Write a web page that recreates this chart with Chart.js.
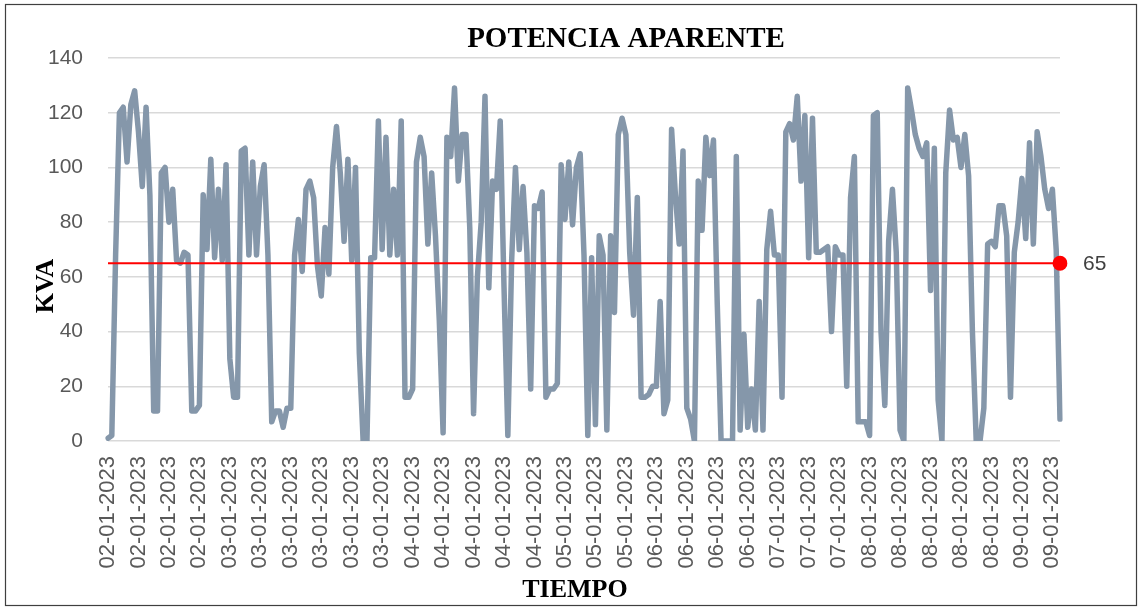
<!DOCTYPE html>
<html>
<head>
<meta charset="utf-8">
<script src="https://cdn.jsdelivr.net/npm/chart.js@4.4.1/dist/chart.umd.min.js"></script>
<style>
  html, body { margin: 0; padding: 0; background: #fff; }
  #grafico1 { display: block; }
</style>
</head>
<body>
<canvas id="grafico1" width="1139" height="607"></canvas>
<script>
// Etiquetas que se ven en el eje X (una cada 8 lecturas)
var etiquetasFecha = [
    '02-01-2023', '02-01-2023', '02-01-2023', '02-01-2023',
    '03-01-2023', '03-01-2023', '03-01-2023', '03-01-2023', '03-01-2023', '03-01-2023',
    '04-01-2023', '04-01-2023', '04-01-2023', '04-01-2023', '04-01-2023',
    '05-01-2023', '05-01-2023', '05-01-2023',
    '06-01-2023', '06-01-2023', '06-01-2023', '06-01-2023',
    '07-01-2023', '07-01-2023', '07-01-2023',
    '08-01-2023', '08-01-2023', '08-01-2023', '08-01-2023', '08-01-2023',
    '09-01-2023', '09-01-2023'
];
var lecturasPorEtiqueta = 8;

// Potencia aparente leida (kVA)
var potenciaKVA = [
    1, 2, 68, 120, 122, 102, 123, 128, 113, 93,
    122, 90, 11, 11, 98, 100, 80, 92, 66, 65,
    69, 68, 11, 11, 13, 90, 70, 103, 67, 92,
    66, 101, 30, 16, 16, 106, 107, 68, 102, 68,
    93, 101, 68, 7, 11, 11, 5, 12, 12, 68,
    81, 62, 92, 95, 89, 64, 53, 78, 61, 100,
    115, 98, 73, 103, 66, 100, 32, 0, 0, 67,
    67, 117, 70, 111, 68, 92, 68, 117, 16, 16,
    19, 102, 111, 104, 72, 98, 75, 44, 3, 111,
    104, 129, 95, 112, 112, 78, 10, 60, 80, 126,
    56, 95, 92, 117, 56, 2, 66, 100, 70, 93,
    69, 19, 86, 85, 91, 16, 19, 19, 21, 101,
    81, 102, 79, 100, 105, 68, 2, 67, 6, 75,
    68, 4, 75, 47, 112, 118, 112, 69, 46, 89,
    16, 16, 17, 20, 20, 51, 10, 15, 114, 90,
    72, 106, 12, 8, 0, 95, 77, 111, 97, 110,
    50, 0, 0, 0, 0, 104, 4, 39, 5, 19,
    4, 51, 4, 70, 84, 68, 68, 16, 113, 116,
    110, 126, 95, 119, 67, 118, 69, 69, 70, 71,
    40, 71, 68, 68, 20, 89, 104, 7, 7, 7,
    2, 119, 120, 40, 13, 73, 92, 69, 4, 0,
    129, 121, 112, 107, 104, 109, 55, 107, 15, 0,
    98, 121, 110, 111, 100, 112, 97, 40, 0, 0,
    12, 72, 73, 71, 86, 86, 75, 16, 69, 80,
    96, 74, 109, 72, 113, 104, 92, 85, 92, 70,
    8
];

var limiteKVA = 65;
var tituloGrafico = 'POTENCIA APARENTE';
var tituloEjeX = 'TIEMPO';
var tituloEjeY = 'KVA';

// una fecha por lectura, tomada del grupo de su etiqueta
var fechas = potenciaKVA.map(function (v, i) {
    return etiquetasFecha[Math.floor(i / lecturasPorEtiqueta)];
});
var lineaLimite = potenciaKVA.map(function () { return limiteKVA; });

// textos que no coloca Chart.js donde los queremos
var textosGrafico = {
    id: 'textosGrafico',
    afterDraw: function (chart) {
        var c = chart.ctx;
        c.save();
        // marco
        c.strokeStyle = '#3f3f3f';
        c.lineWidth = 1.2;
        c.strokeRect(5.5, 4.5, 1131, 601);

        c.fillStyle = '#000';
        c.textAlign = 'center';
        c.textBaseline = 'middle';
        c.font = 'bold 29px "Liberation Serif"';
        c.fillText(tituloGrafico, 626, 40);

        c.font = 'bold 26px "Liberation Serif"';
        c.fillText(tituloEjeX, 575, 590);

        c.save();
        c.translate(46, 286);
        c.rotate(-Math.PI / 2);
        c.fillText(tituloEjeY, 0, 0);
        c.restore();

        // valor del limite junto al ultimo punto
        var meta = chart.getDatasetMeta(1);
        var ultimo = meta.data[meta.data.length - 1];
        c.font = '21px "Liberation Sans"';
        c.fillStyle = '#404040';
        c.textAlign = 'left';
        c.fillText(String(limiteKVA), ultimo.x + 23, ultimo.y + 1);
        c.restore();
    }
};

var ctx = document.getElementById('grafico1').getContext('2d');
var myChart = new Chart(ctx, {
    type: 'line',
    data: {
        labels: fechas,
        datasets: [{
            label: 'Potencia aparente',
            data: potenciaKVA,
            borderColor: '#8597aa',
            borderWidth: 5.5,
            borderJoinStyle: 'round',
            borderCapStyle: 'round',
            pointRadius: 0,
            tension: 0,
            order: 2
        }, {
            label: 'Limite',
            data: lineaLimite,
            borderColor: '#ff0000',
            backgroundColor: '#ff0000',
            borderWidth: 2,
            pointRadius: function (c) {
                return c.dataIndex === lineaLimite.length - 1 ? 7.5 : 0;
            },
            pointBorderWidth: 0,
            tension: 0,
            order: 1
        }]
    },
    options: {
        responsive: false,
        animation: false,
        devicePixelRatio: 1,
        layout: {
            padding: { top: 58, right: 79, left: 0, bottom: 0 }
        },
        plugins: {
            legend: { display: false },
            title: { display: false },
            tooltip: { enabled: false }
        },
        scales: {
            x: {
                grid: { display: false, drawTicks: false },
                border: { display: false },
                ticks: {
                    autoSkip: false,
                    maxRotation: 90,
                    minRotation: 90,
                    padding: 15,
                    color: '#595959',
                    font: { family: 'Liberation Sans', size: 22 },
                    callback: function (val, i) {
                        return i % lecturasPorEtiqueta === 0 ? this.getLabelForValue(val) : '';
                    }
                },
                afterFit: function (scale) { scale.height = 166; }
            },
            y: {
                min: 0,
                max: 140,
                grid: { color: '#d9d9d9', lineWidth: 1.5, drawTicks: false },
                border: { display: false },
                ticks: {
                    stepSize: 20,
                    padding: 25,
                    color: '#595959',
                    font: { family: 'Liberation Sans', size: 21 }
                },
                afterFit: function (scale) { scale.width = 108; }
            }
        }
    },
    plugins: [textosGrafico]
});
</script>
</body>
</html>
